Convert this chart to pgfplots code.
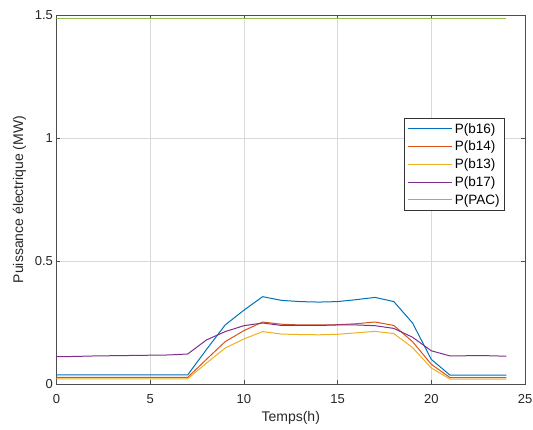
\documentclass[border=0pt]{standalone}
\usepackage{pgfplots}
\pgfplotsset{compat=1.18}
\usepackage{fontspec}
\setmainfont{Liberation Sans}
\definecolor{mBlue}{HTML}{0072BD}
\definecolor{mRed}{HTML}{D95319}
\definecolor{mYellow}{HTML}{EDB120}
\definecolor{mPurple}{HTML}{7E2F8E}
\definecolor{mGreen}{HTML}{8DBF55}
\definecolor{axgray}{HTML}{4D4D4D}
\begin{document}
\begin{tikzpicture}
\path[use as bounding box] (-56.5bp,-46bp) rectangle (476.5bp,384bp);
\begin{axis}[
  scale only axis, width=468.5bp, height=369bp,
  xmin=0, xmax=25, ymin=0, ymax=1.5,
  xtick={0,5,10,15,20,25}, ytick={0,0.5,1,1.5},
  yticklabels={0,0.5,1,1.5},
  xmajorgrids, ymajorgrids,
  grid style={color=black!15, line width=0.6pt},
  axis line style={axgray, line width=0.8pt},
  tick style={axgray, line width=0.8pt},
  tick align=inside, major tick length=4bp,
  tick label style={font=\fontsize{13bp}{15bp}\selectfont, text=black!85},
  xticklabel style={yshift=-7bp},
  /pgf/number format/assume math mode=true,
  xlabel={Temps(h)}, ylabel={Puissance électrique (MW)},
  label style={font=\fontsize{14bp}{16bp}\selectfont, text=black!85},
  xlabel style={yshift=-1bp},
  ylabel style={yshift=2bp},
  legend style={at={(0.957,0.721)}, anchor=north east, draw=black!80, line width=0.6pt,
    font=\fontsize{13.5bp}{16bp}\selectfont, row sep=2.5bp, inner sep=3bp},
  legend cell align=left,
  legend image code/.code={\draw[#1] (0cm,0cm) -- (1.55cm,0cm);},
]
\addplot[mBlue, line width=1bp] coordinates {(0,0.037)(1,0.037)(2,0.037)(3,0.037)(4,0.037)(5,0.037)(6,0.037)(7,0.037)(8,0.14)(9,0.24)(10,0.30)(11,0.355)(12,0.34)(13,0.335)(14,0.333)(15,0.335)(16,0.343)(17,0.352)(18,0.335)(19,0.248)(20,0.10)(21,0.036)(22,0.036)(23,0.036)(24,0.036)};
\addlegendentry{P(b16)}
\addplot[mRed, line width=1bp] coordinates {(0,0.027)(1,0.027)(2,0.027)(3,0.027)(4,0.027)(5,0.027)(6,0.027)(7,0.027)(8,0.10)(9,0.172)(10,0.217)(11,0.252)(12,0.243)(13,0.240)(14,0.240)(15,0.241)(16,0.245)(17,0.252)(18,0.238)(19,0.172)(20,0.08)(21,0.026)(22,0.026)(23,0.026)(24,0.026)};
\addlegendentry{P(b14)}
\addplot[mYellow, line width=1bp] coordinates {(0,0.021)(1,0.021)(2,0.021)(3,0.021)(4,0.021)(5,0.021)(6,0.021)(7,0.021)(8,0.085)(9,0.146)(10,0.183)(11,0.213)(12,0.203)(13,0.201)(14,0.200)(15,0.202)(16,0.208)(17,0.214)(18,0.205)(19,0.148)(20,0.065)(21,0.02)(22,0.02)(23,0.02)(24,0.02)};
\addlegendentry{P(b13)}
\addplot[mPurple, line width=1bp] coordinates {(0,0.111)(1,0.112)(2,0.114)(3,0.115)(4,0.116)(5,0.117)(6,0.118)(7,0.122)(8,0.179)(9,0.213)(10,0.237)(11,0.248)(12,0.238)(13,0.238)(14,0.238)(15,0.240)(16,0.240)(17,0.237)(18,0.226)(19,0.19)(20,0.135)(21,0.114)(22,0.115)(23,0.115)(24,0.113)};
\addlegendentry{P(b17)}
\addplot[mGreen, line width=1.1bp] coordinates {(0,1.485)(24,1.485)};
\addlegendentry{P(PAC)}
\end{axis}
\end{tikzpicture}
\end{document}
